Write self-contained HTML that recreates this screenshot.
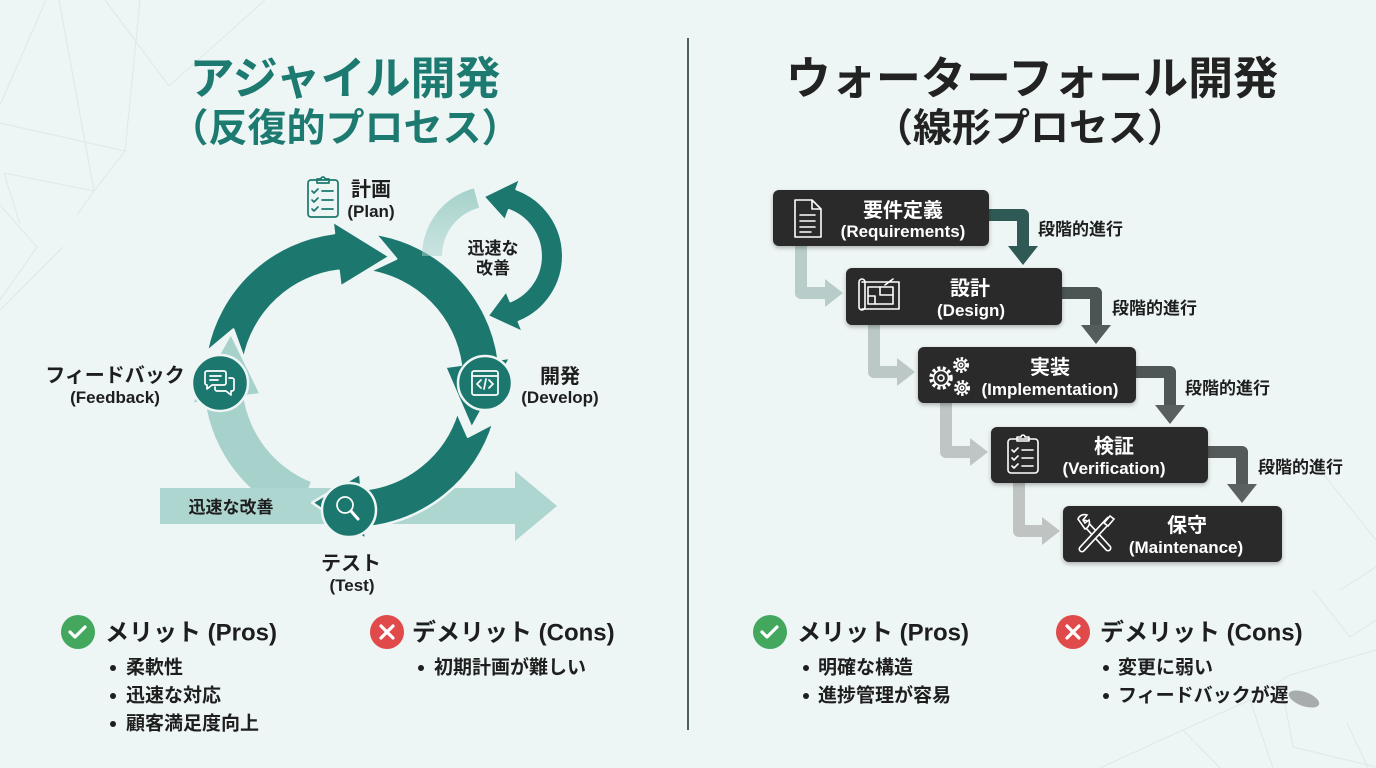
<!DOCTYPE html>
<html><head><meta charset="utf-8">
<style>
html,body{margin:0;padding:0}
body{width:1376px;height:768px;overflow:hidden;background:#eef5f5;font-family:"Liberation Sans","Noto Sans CJK JP",sans-serif;position:relative;color:#1e1e1e}
.t{position:absolute;transform:translate(-50%,-50%);white-space:nowrap;font-weight:700;line-height:1.2;margin-top:2px}
.l{position:absolute;transform:translateY(-50%);white-space:nowrap;font-weight:700;line-height:1.2;margin-top:2px}
.w{color:#fff}
.dot{position:absolute;width:6px;height:6px;border-radius:50%;background:#1e1e1e;transform:translate(-50%,-50%);margin-top:1px}
</style></head><body>
<svg width="1376" height="768" style="position:absolute;left:0;top:0">
<defs>
<filter id="sh" x="-10%" y="-20%" width="120%" height="150%"><feDropShadow dx="0" dy="2" stdDeviation="2" flood-color="#000" flood-opacity="0.28"/></filter>
<linearGradient id="lg" x1="0" y1="190" x2="0" y2="262" gradientUnits="userSpaceOnUse"><stop offset="0" stop-color="#a6d2cb"/><stop offset="1" stop-color="#a6d2cb" stop-opacity="0.45"/></linearGradient>
</defs>
<g stroke="#e0e8e8" stroke-width="1.1" fill="none">
<polyline points="46,0 0,105"/>
<polyline points="59,0 94,191 77,215"/>
<polyline points="140,0 125,151 94,191"/>
<polyline points="105,0 169,86 265,0"/>
<polyline points="0,123 125,151"/>
<polyline points="4,173 94,191"/>
<polyline points="4,173 20,224"/>
<polyline points="0,205 37,247 0,300"/>
<polyline points="63,247 0,310"/>
<polyline points="1313,590 1350,637 1376,620"/>
<polyline points="1340,590 1376,567"/>
<polyline points="1290,675 1376,650"/>
<polyline points="1283,693 1293,747 1376,767"/>
<polyline points="1250,700 1273,768"/>
<polyline points="1183,730 1250,700 1290,675"/>
<polyline points="1183,730 1220,768"/>
<polyline points="1347,723 1368,768"/>
<polyline points="1320,470 1376,540"/>
<polyline points="1100,768 1183,730"/>
</g>
<line x1="688" y1="38" x2="688" y2="730" stroke="#4e5f5e" stroke-width="2"/>

<path fill="#a6d2cb" d="M296.6,517.2 A148,148 0 0 1 205.4,400.6 L193.6,402.3 L230.8,335.9 L258.9,393.1 L243.1,395.3 A110,110 0 0 0 310.8,482.0 Z"/>
<path fill="#add6d0" d="M160,488 H515 V471 L557,506 L515,541 V524 H160 Z"/>
<g fill="#1c786e" stroke="#eef5f5" stroke-width="2.5" stroke-linejoin="round">
<path d="M375.2,233.8 A148,148 0 0 1 498.6,359.4 L510.4,357.7 L471.6,428.3 L445.1,366.9 L460.9,364.7 A110,110 0 0 0 369.2,271.4 L396.1,258.8 Z"/>
<path d="M493.5,423.3 A148,148 0 0 1 364.9,527.4 L366.0,539.4 L312.1,502.7 L360.2,473.6 L361.6,489.6 A110,110 0 0 0 457.2,412.2 L467.9,436.6 Z"/>
<path d="M206.7,351.8 A148,148 0 0 1 334.0,233.1 L332.5,221.2 L389.7,256.6 L340.5,286.7 L338.6,270.8 A110,110 0 0 0 244.0,359.0 L233.3,329.6 Z"/>
</g>
<path fill="url(#lg)" d="M422,256 A70,70 0 0 1 473.9,188.4 L479.1,207.7 A50,50 0 0 0 442,256 Z"/>
<path fill="#1c786e" stroke="#eef5f5" stroke-width="2" stroke-linejoin="round" d="M483.6,196.6 L520.0,178.9 L516.3,189.3 A71,71 0 0 1 518.6,321.8 L522.7,332.0 L487.8,315.9 L506.2,291.2 L510.4,301.4 A49,49 0 0 0 508.8,210.0 L505.0,220.3 Z"/>
<g fill="#1c786e" stroke="#eef5f5" stroke-width="2.5">
<circle cx="220" cy="383" r="28"/>
<circle cx="485" cy="383" r="27"/>
<circle cx="349" cy="510" r="27"/>
</g>
<g stroke="#fff" stroke-width="1.7" fill="none" stroke-linejoin="round" stroke-linecap="round">
<path d="M207,371 h17 a2,2 0 0 1 2,2 v10 a2,2 0 0 1 -2,2 h-12 l-5,4 v-4 a2,2 0 0 1 -2,-2 v-10 a2,2 0 0 1 2,-2 z"/>
<line x1="210" y1="376" x2="221" y2="376"/><line x1="210" y1="380" x2="218" y2="380"/>
<path d="M229,378 h3 a2,2 0 0 1 2,2 v9 a2,2 0 0 1 -2,2 h-1 v4 l-5,-4 h-9 a2,2 0 0 1 -2,-2 v-2"/>
<rect x="472" y="371" width="26" height="24" rx="2"/>
<line x1="472" y1="376" x2="498" y2="376"/>
<path d="M481,380 l-4,4 4,4 M489,380 l4,4 -4,4 M486,379 l-2,10"/>
<circle cx="345" cy="505" r="8"/>
<line x1="351" y1="511" x2="358" y2="519" stroke-width="3"/>
</g>
<g stroke="#1c786e" stroke-width="1.7" fill="none" stroke-linejoin="round" stroke-linecap="round">
<rect x="308" y="180" width="30" height="37" rx="3"/>
<path d="M317,183 v-4 h4 a2,2 0 0 1 4,0 h4 v4 z"/>
<path d="M312,191 l2,2 4,-4 M312,200 l2,2 4,-4 M312,209 l2,2 4,-4"/>
<path d="M322,191 h11 M322,200 h11 M322,209 h11"/>
</g>

<g fill="none" stroke-width="12" stroke-linejoin="round">
<polyline points="801,246 801,293 826,293" stroke="#b8cdc9"/>
<polyline points="874,325 874,372 898,372" stroke="#bcc8c6"/>
<polyline points="946,403 946,452 971,452" stroke="#bec5c4"/>
<polyline points="1019,483 1019,531 1043,531" stroke="#bfc4c3"/>
<polyline points="989,215 1023,215 1023,248" stroke="#2f5954"/>
<polyline points="1062,293 1096,293 1096,327" stroke="#4b5554"/>
<polyline points="1136,372 1170,372 1170,407" stroke="#4f5756"/>
<polyline points="1208,452 1242,452 1242,486" stroke="#545a59"/>
</g>
<polygon points="825,279 825,307 843,293" fill="#b8cdc9"/>
<polygon points="897,358 897,386 915,372" fill="#bcc8c6"/>
<polygon points="970,438 970,466 988,452" fill="#bec5c4"/>
<polygon points="1042,517 1042,545 1060,531" fill="#bfc4c3"/>
<polygon points="1008,246 1038,246 1023,265" fill="#2f5954"/>
<polygon points="1081,325 1111,325 1096,344" fill="#555d5c"/>
<polygon points="1155,405 1185,405 1170,424" fill="#585f5e"/>
<polygon points="1227,484 1257,484 1242,503" fill="#5b6160"/>

<g fill="#2a2b2b" filter="url(#sh)">
<rect x="773" y="190" width="216" height="56" rx="6"/>
<rect x="846" y="268" width="216" height="57" rx="6"/>
<rect x="918" y="347" width="218" height="56" rx="6"/>
<rect x="991" y="427" width="217" height="56" rx="6"/>
<rect x="1063" y="506" width="219" height="56" rx="6"/>
</g>
<g stroke="#fff" stroke-width="1.6" fill="none" stroke-linejoin="round" stroke-linecap="round">
<path d="M795,200 h17 l9,9 v28 h-26 z M812,200 v9 h9"/>
<path d="M800,215 h15 M800,221 h15 M800,227 h15 M800,232 h11"/>
<rect x="859" y="279" width="6" height="31" rx="3"/>
<path d="M862,282 h37 v27 h-37"/>
<rect x="868" y="287" width="25" height="17"/>
<path d="M880,287 v8 h13 M868,296 h7 v8 M885,285 l8,-6"/>
<circle cx="941" cy="378" r="10" stroke-width="3.5" stroke-dasharray="3 2.4" stroke-linecap="butt"/>
<circle cx="941" cy="378" r="7.5" fill="#2a2b2b"/>
<circle cx="941" cy="378" r="3"/>
<circle cx="961" cy="365" r="6.5" stroke-width="3" stroke-dasharray="2.4 1.9" stroke-linecap="butt"/>
<circle cx="961" cy="365" r="4.5" fill="#2a2b2b"/>
<circle cx="961" cy="365" r="1.8"/>
<circle cx="962" cy="388" r="6.5" stroke-width="3" stroke-dasharray="2.4 1.9" stroke-linecap="butt"/>
<circle cx="962" cy="388" r="4.5" fill="#2a2b2b"/>
<circle cx="962" cy="388" r="1.8"/>
<rect x="1008" y="439" width="30" height="34" rx="3"/>
<path d="M1017,441 v-4 h4 a2,2 0 0 1 4,0 h4 v4 z"/>
<path d="M1012,450 l2,2 4,-4 M1012,458 l2,2 4,-4 M1012,466 l2,2 4,-4"/>
<path d="M1022,450 h11 M1022,458 h11 M1022,466 h11"/>
</g>
<g stroke-linecap="round">
<line x1="1085" y1="523" x2="1108" y2="548" stroke="#fff" stroke-width="7"/>
<line x1="1085" y1="523" x2="1108" y2="548" stroke="#2a2b2b" stroke-width="3.8"/>
<line x1="1109" y1="520" x2="1082" y2="549" stroke="#fff" stroke-width="7"/>
<line x1="1109" y1="520" x2="1082" y2="549" stroke="#2a2b2b" stroke-width="3.8"/>
</g>
<g stroke="#fff" stroke-width="1.6" fill="#2a2b2b">
<path d="M1078,519 a7,7 0 0 1 9,-4 l-4,5 2,3 4,-3 a7,7 0 0 1 -4,9 z"/>
<path d="M1104,523 l6,-7 4,3 -6,7 z"/>
</g>

<circle cx="78" cy="632" r="17" fill="#43a85e"/>
<circle cx="387" cy="632" r="17" fill="#e04a4a"/>
<circle cx="770" cy="632" r="17" fill="#43a85e"/>
<circle cx="1073" cy="632" r="17" fill="#e04a4a"/>
<g stroke="#fff" stroke-width="3.2" fill="none" stroke-linecap="round" stroke-linejoin="round">
<path d="M70,632 l5,5 10,-10"/>
<path d="M762,632 l5,5 10,-10"/>
<path d="M381,626 l12,12 M393,626 l-12,12"/>
<path d="M1067,626 l12,12 M1079,626 l-12,12"/>
</g>
<ellipse cx="1304" cy="699" rx="16" ry="7" fill="#555" opacity="0.45" transform="rotate(20 1304 699)"/>
</svg>

<div class="t" style="left:345px;top:77px;font-size:45px;color:#1c7a70">アジャイル開発</div>
<div class="t" style="left:345px;top:128px;font-size:39px;color:#1c7a70">（反復的プロセス）</div>
<div class="t" style="left:1032px;top:77px;font-size:45px;color:#222">ウォーターフォール開発</div>
<div class="t" style="left:1030px;top:128px;font-size:39px;color:#222">（線形プロセス）</div>

<div class="t" style="left:371px;top:188px;font-size:20px">計画</div>
<div class="t" style="left:371px;top:210px;font-size:17px">(Plan)</div>
<div class="t" style="left:115px;top:374px;font-size:20px">フィードバック</div>
<div class="t" style="left:115px;top:396px;font-size:17px">(Feedback)</div>
<div class="t" style="left:560px;top:375px;font-size:20px">開発</div>
<div class="t" style="left:560px;top:396px;font-size:17px">(Develop)</div>
<div class="t" style="left:351px;top:562px;font-size:20px">テスト</div>
<div class="t" style="left:352px;top:584px;font-size:17px">(Test)</div>
<div class="t" style="left:231px;top:506px;font-size:17px">迅速な改善</div>
<div class="t" style="left:493px;top:247px;font-size:17px">迅速な</div>
<div class="t" style="left:493px;top:267px;font-size:17px">改善</div>

<div class="t w" style="left:903px;top:209px;font-size:20px">要件定義</div>
<div class="t w" style="left:903px;top:230px;font-size:17px">(Requirements)</div>
<div class="t w" style="left:970px;top:287px;font-size:20px">設計</div>
<div class="t w" style="left:971px;top:309px;font-size:17px">(Design)</div>
<div class="t w" style="left:1050px;top:366px;font-size:20px">実装</div>
<div class="t w" style="left:1050px;top:388px;font-size:17px">(Implementation)</div>
<div class="t w" style="left:1114px;top:445px;font-size:20px">検証</div>
<div class="t w" style="left:1114px;top:467px;font-size:17px">(Verification)</div>
<div class="t w" style="left:1187px;top:524px;font-size:20px">保守</div>
<div class="t w" style="left:1186px;top:546px;font-size:17px">(Maintenance)</div>
<div class="l" style="left:1038px;top:228px;font-size:17px">段階的進行</div>
<div class="l" style="left:1112px;top:307px;font-size:17px">段階的進行</div>
<div class="l" style="left:1185px;top:387px;font-size:17px">段階的進行</div>
<div class="l" style="left:1258px;top:466px;font-size:17px">段階的進行</div>

<div class="l" style="left:105px;top:632px;font-size:24px">メリット (Pros)</div>
<div class="dot" style="left:113px;top:667px"></div><div class="l" style="left:126px;top:667px;font-size:19px">柔軟性</div>
<div class="dot" style="left:113px;top:695px"></div><div class="l" style="left:126px;top:695px;font-size:19px">迅速な対応</div>
<div class="dot" style="left:113px;top:723px"></div><div class="l" style="left:126px;top:723px;font-size:19px">顧客満足度向上</div>

<div class="l" style="left:412px;top:632px;font-size:24px">デメリット (Cons)</div>
<div class="dot" style="left:421px;top:667px"></div><div class="l" style="left:434px;top:667px;font-size:19px">初期計画が難しい</div>

<div class="l" style="left:797px;top:632px;font-size:24px">メリット (Pros)</div>
<div class="dot" style="left:806px;top:667px"></div><div class="l" style="left:818px;top:667px;font-size:19px">明確な構造</div>
<div class="dot" style="left:806px;top:695px"></div><div class="l" style="left:818px;top:695px;font-size:19px">進捗管理が容易</div>

<div class="l" style="left:1100px;top:632px;font-size:24px">デメリット (Cons)</div>
<div class="dot" style="left:1106px;top:667px"></div><div class="l" style="left:1118px;top:667px;font-size:19px">変更に弱い</div>
<div class="dot" style="left:1106px;top:695px"></div><div class="l" style="left:1118px;top:695px;font-size:19px">フィードバックが遅</div>
</body></html>
